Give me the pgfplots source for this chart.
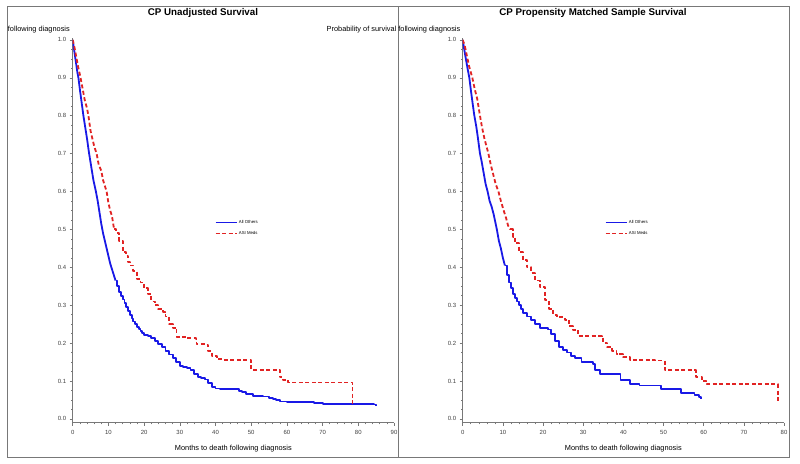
\documentclass[border=0pt]{standalone}
\usepackage{fontspec}
\setmainfont{Liberation Sans}
\usepackage{pgfplots}
\pgfplotsset{compat=1.18}
\definecolor{kmblue}{RGB}{25,25,230}
\definecolor{kmred}{RGB}{225,35,35}
\definecolor{axgray}{RGB}{120,120,120}

\pgfplotsset{
  kmaxis/.style={
    scale only axis, width=321.3bp, height=384.7bp,
    anchor=south west,
    xmin=0, ymin=-0.01, ymax=1.005,
    axis lines*=left, axis line style={-, axgray, line width=0.8bp},
    ytick={0,0.1,0.2,0.3,0.4,0.5,0.6,0.7,0.8,0.9,1.0},
    minor x tick num=4, minor y tick num=3,
    tick align=outside, major tick length=3bp, minor tick length=1.6bp,
    every tick/.style={axgray, line width=0.5bp},
    tick label style={font=\fontsize{6}{7}\selectfont, text=black!75},
    /pgf/number format/assume math mode=true,
    yticklabel style={/pgf/number format/.cd, fixed, fixed zerofill, precision=1},
    xticklabel style={yshift=-1bp},
    xlabel={Months to death following diagnosis},
    xlabel style={font=\fontsize{7.4}{8}\selectfont, at={(axis description cs:0.5,-0.067)}, anchor=center},
    legend style={at={(axis description cs:0.443,0.506)}, anchor=west, draw=none, fill=none,
      font=\fontsize{4.3}{5}\selectfont, inner sep=0pt, row sep=2.5bp},
    legend cell align=left,
    legend image code/.code={\draw[#1, line width=0.7bp] (0bp,0bp) -- (21bp,0bp);},
  },
  bluecurve/.style={color=kmblue, line width=1.8bp, line join=round},
  redcurve/.style={color=kmred, line width=1.8bp, line join=round, dash pattern=on 4bp off 2.5bp},
}

\begin{document}
\begin{tikzpicture}[x=1bp, y=1bp]
\useasboundingbox (0,0) rectangle (800,464);
\fill[white] (0,0) rectangle (800,464);
\draw[axgray, line width=0.8bp] (7.5,7) rectangle (398,458);
\draw[axgray, line width=0.8bp] (398,7) rectangle (789,458);

% left panel
\begin{axis}[kmaxis, at={(72.7bp,41.3bp)}, xmax=90, xtick={0,10,...,90}]
% early part: dense events, drawn as a line
\addplot[bluecurve, sharp plot, forget plot] coordinates {
(0,1.0) (0.3,0.98) (0.6,0.96) (1.0,0.935) (1.3,0.915) (1.6,0.9) (2.0,0.87) (2.5,0.835)
(3.0,0.80) (3.5,0.77) (4.0,0.74) (4.6,0.70) (5.2,0.665) (5.8,0.63) (6.5,0.60) (7.0,0.575)
(7.5,0.545) (8.0,0.515) (8.5,0.49) (9.0,0.47) (9.5,0.45) (10,0.43) (10.5,0.41) (11,0.395)
(11.5,0.38) (12,0.365)};
\addplot[bluecurve, const plot] coordinates {
(12,0.365) (12.5,0.35) (13,0.335) (13.5,0.325) (14,0.315) (14.5,0.305) (15,0.295)
(15.5,0.285) (16,0.275) (16.5,0.265) (17,0.257) (17.5,0.25) (18,0.243) (18.5,0.237) (19,0.232)
(19.5,0.227) (20,0.222) (21,0.218) (22,0.213) (23,0.205) (24,0.197) (25,0.19) (26,0.18)
(27,0.17) (28,0.16) (29,0.151) (30,0.14) (31,0.137) (32,0.134) (33,0.128) (34,0.118)
(35,0.11) (36,0.107) (37,0.104) (38,0.095) (39,0.085) (40,0.08) (41.3,0.078) (46.5,0.074)
(47.5,0.07) (48.5,0.066) (50.5,0.061) (53.2,0.059) (55,0.056) (56,0.052) (57,0.049) (58,0.046)
(60,0.045) (67.5,0.043) (69,0.041) (70,0.04) (84.5,0.038) (85,0.035)};
\addlegendentry{All Others}
\addplot[redcurve, sharp plot, forget plot] coordinates {
(0,1.0) (0.5,0.98) (1.0,0.955) (1.5,0.93) (2.2,0.9) (2.8,0.87) (3.4,0.84) (4.0,0.82)
(4.4,0.80) (5.0,0.76) (5.5,0.74) (6.0,0.72) (6.7,0.70) (7.3,0.67) (8.0,0.655) (8.5,0.63)
(9.0,0.615) (9.5,0.60) (10.0,0.57) (10.5,0.55) (11.0,0.535) (11.6,0.50)};
\addplot[redcurve, const plot] coordinates {
(11.6,0.50) (12.2,0.49) (13,0.47)
(14,0.44) (15,0.43) (15.5,0.415) (16,0.405) (17,0.39) (18,0.37) (19,0.36) (20,0.345)
(21,0.33) (22,0.31) (23,0.30) (24,0.29) (25.4,0.283) (26,0.27) (27,0.25) (28,0.24)
(29.1,0.217) (31.5,0.217) (32,0.213) (34.5,0.21) (34.7,0.197) (37,0.195) (38,0.18) (39,0.165)
(40.5,0.158) (42,0.155) (49.5,0.155) (50,0.13) (57.5,0.13) (58,0.11) (59,0.103) (60.4,0.096)
(78.4,0.037)};
\addlegendentry{ASI Meds}
\end{axis}

% right panel
\begin{axis}[kmaxis, at={(462.7bp,41.3bp)}, xmax=80, xtick={0,10,...,80}]
\addplot[bluecurve, sharp plot, forget plot] coordinates {
(0,1.0) (0.3,0.98) (0.7,0.955) (1.2,0.925) (1.65,0.9) (2.0,0.87) (2.5,0.83) (2.9,0.80)
(3.4,0.77) (3.8,0.74) (4.3,0.70) (4.7,0.68) (5.2,0.65) (5.7,0.62) (6.2,0.60) (6.7,0.575)
(7.2,0.56) (7.7,0.54) (8.1,0.52) (8.5,0.50) (9,0.47) (9.5,0.45) (10,0.425) (10.5,0.405)};
\addplot[bluecurve, const plot] coordinates {
(10.5,0.405) (11,0.38) (11.5,0.36) (12,0.345) (12.5,0.33) (13,0.32) (13.5,0.31) (14,0.30) (14.5,0.29)
(15,0.28) (16,0.27) (17,0.26) (18,0.25) (19.2,0.24) (21.3,0.236) (22,0.225) (23,0.205)
(24,0.19) (25,0.182) (26,0.175) (27,0.165) (28,0.16) (29.6,0.151) (32.5,0.145) (33,0.13)
(34.2,0.118) (39.3,0.103) (41.6,0.092) (44,0.088) (49.3,0.078) (54.4,0.069) (57.7,0.063)
(58.8,0.058) (59.3,0.053)};
\addlegendentry{All Others}
\addplot[redcurve, sharp plot, forget plot] coordinates {
(0,1.0) (0.5,0.985) (1.0,0.96) (1.6,0.93) (2.4,0.9) (3.0,0.87) (3.6,0.845) (4.3,0.80)
(4.8,0.77) (5.4,0.74) (5.9,0.72) (6.4,0.70) (7.0,0.67) (7.6,0.645) (8.2,0.62) (8.9,0.60)
(9.5,0.575) (10.2,0.55) (10.8,0.53) (11.3,0.51) (11.8,0.50)};
\addplot[redcurve, const plot] coordinates {
(11.8,0.50) (12.5,0.48) (13,0.465) (14,0.44)
(15,0.42) (16,0.40) (17,0.385) (18,0.365) (19.2,0.348) (20.5,0.313) (21.5,0.29) (22.5,0.275)
(23.4,0.269) (25.4,0.262) (26.5,0.245) (27.5,0.235) (28.8,0.218) (34.6,0.216) (35,0.201) (36,0.19)
(37.2,0.18) (38.3,0.171) (40,0.163) (41.6,0.155) (47.8,0.154) (50.3,0.129) (57.4,0.129) (58,0.111)
(59.5,0.1) (60.7,0.092) (78.5,0.041)};
\addlegendentry{ASI Meds}
\end{axis}

% titles and y labels
\node[font=\bfseries\fontsize{9.8}{11}\selectfont] at (203,451) {CP Unadjusted Survival};
\node[font=\bfseries\fontsize{9.8}{11}\selectfont] at (593,451) {CP Propensity Matched Sample Survival};
\node[anchor=east, font=\fontsize{7.4}{8}\selectfont, inner sep=0pt] at (70,434) {following diagnosis};
\node[anchor=east, font=\fontsize{7.4}{8}\selectfont, inner sep=0pt] at (460.5,434) {Probability of survival following diagnosis};
\end{tikzpicture}
\end{document}
